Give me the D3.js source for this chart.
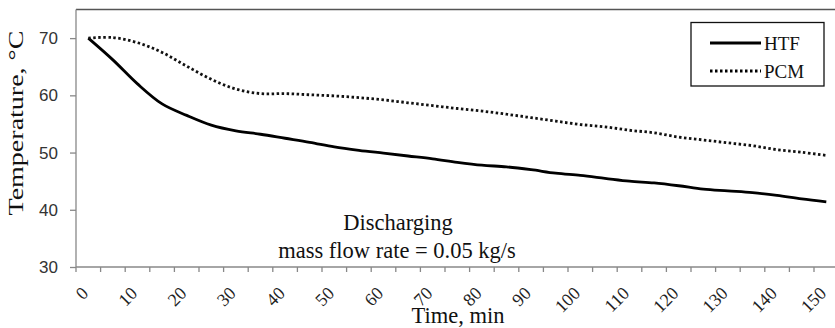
<!DOCTYPE html>
<html><head><meta charset="utf-8">
<script src="https://cdn.jsdelivr.net/npm/d3@7"></script>
<style>body{margin:0;background:#fff}svg{display:block}</style>
</head><body>
<script>
const times = [0,5,10,15,20,25,30,35,40,45,50,55,60,65,70,75,80,85,90,95,100,105,110,115,120,125,130,135,140,145,150];
const htf = [70,66.2,62.0,58.5,56.5,54.8,53.8,53.2,52.5,51.8,51.0,50.4,49.9,49.4,48.9,48.3,47.8,47.5,47.0,46.4,46.0,45.5,45.0,44.7,44.2,43.6,43.3,43.0,42.5,41.9,41.4];
const pcm = [70,70.1,69.2,67.5,65.1,62.8,61.1,60.3,60.3,60.1,59.9,59.6,59.2,58.7,58.2,57.7,57.25,56.7,56.1,55.5,54.9,54.5,53.9,53.45,52.7,52.2,51.7,51.2,50.5,50.05,49.5];
const yTicks = [30,40,50,60,70];
const xLabels = [0,10,20,30,40,50,60,70,80,90,100,110,120,130,140,150];
const seriesNames = ["HTF","PCM"];

const W = 835, H = 328;
const svg = d3.select("body").append("svg").attr("width", W).attr("height", H);
const mLeft = 76, mTop = 9.5, mBottom = 267, step = 24.6;
const x = d3.scaleBand().domain(times).range([mLeft, mLeft + step * times.length]).paddingInner(0).paddingOuter(0);
const y = d3.scaleLinear().domain([30, 75]).range([mBottom, mTop]);
const cx = t => x(t) + x.bandwidth() / 2;
const serif = "Liberation Serif, Times New Roman, serif";

// plot frame top
svg.append("line").attr("x1", mLeft).attr("x2", W).attr("y1", mTop).attr("y2", mTop)
  .attr("stroke", "#555").attr("stroke-width", 1.3);

// y axis
const ya = svg.append("g").attr("transform", `translate(${mLeft},0)`)
  .call(d3.axisLeft(y).tickValues(yTicks).tickSize(6).tickPadding(12).tickSizeOuter(0));
ya.select(".domain").attr("stroke", "#888").attr("stroke-width", 1.3).attr("d", `M0,${mTop}V${mBottom}`);
ya.selectAll(".tick line").attr("stroke", "#888").attr("stroke-width", 1.3);
ya.selectAll(".tick text").attr("font-family", "Liberation Sans, Arial, sans-serif").attr("font-size", 17).attr("fill", "#333");

// x axis with tick marks at category boundaries
const xa = svg.append("g").attr("transform", `translate(0,${mBottom})`);
xa.append("line").attr("x1", mLeft).attr("x2", W).attr("stroke", "#888").attr("stroke-width", 1.3);
xa.selectAll("line.tk").data(times).join("line").attr("class", "tk")
  .attr("x1", d => x(d)).attr("x2", d => x(d)).attr("y1", 0).attr("y2", 5)
  .attr("stroke", "#888").attr("stroke-width", 1.3);
xa.selectAll("text.lbl").data(xLabels).join("text").attr("class", "lbl")
  .attr("transform", d => `translate(${cx(d) - 3.5},${23}) rotate(-45)`)
  .attr("text-anchor", "end").attr("dy", "0.35em")
  .attr("font-family", serif).attr("font-size", 18).attr("fill", "#222")
  .text(d => d);

// lines
const line = d3.line().x((d, i) => cx(times[i])).y(d => y(d)).curve(d3.curveCatmullRom.alpha(0.5));
svg.append("path").datum(htf).attr("d", line).attr("fill", "none").attr("stroke", "#000").attr("stroke-width", 2.8);
svg.append("path").datum(pcm).attr("d", line).attr("fill", "none").attr("stroke", "#111").attr("stroke-width", 2.8).attr("stroke-dasharray", "2.5,2.5");

// axis titles
svg.append("text").attr("transform", `translate(23,123) rotate(-90)`).attr("text-anchor", "middle")
  .attr("font-family", serif).attr("font-size", 22).attr("fill", "#111")
  .attr("textLength", 185).attr("lengthAdjust", "spacingAndGlyphs").text("Temperature, °C");
svg.append("text").attr("x", 458).attr("y", 323).attr("text-anchor", "middle")
  .attr("font-family", serif).attr("font-size", 22.5).attr("fill", "#111").text("Time, min");
svg.append("text").attr("x", 398).attr("y", 230).attr("text-anchor", "middle")
  .attr("font-family", serif).attr("font-size", 22.5).attr("fill", "#111").text("Discharging");
svg.append("text").attr("x", 397).attr("y", 258).attr("text-anchor", "middle")
  .attr("font-family", serif).attr("font-size", 22.5).attr("fill", "#111").text("mass flow rate = 0.05 kg/s");

// legend
const lg = svg.append("g");
lg.append("rect").attr("x", 691).attr("y", 22.5).attr("width", 133).attr("height", 63.5)
  .attr("fill", "#fff").attr("stroke", "#111").attr("stroke-width", 1.3);
seriesNames.forEach((n, i) => {
  const yy = 43 + i * 28;
  lg.append("line").attr("x1", 710).attr("x2", 761).attr("y1", yy).attr("y2", yy)
    .attr("stroke", "#000").attr("stroke-width", 2.8).attr("stroke-dasharray", i ? "2.5,2.5" : null);
  lg.append("text").attr("x", 764).attr("y", yy).attr("dy", "0.35em")
    .attr("font-family", serif).attr("font-size", 19).attr("fill", "#111").text(n);
});
</script>
</body></html>
